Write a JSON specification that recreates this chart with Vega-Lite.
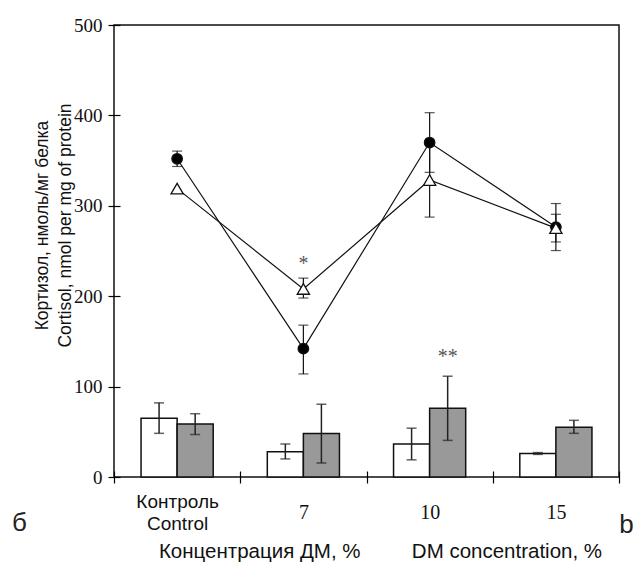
{
  "$schema": "https://vega.github.io/schema/vega-lite/v6.json",
  "width": 505,
  "height": 452,
  "autosize": {"type": "none"},
  "padding": {"left": 114, "top": 25, "right": 18, "bottom": 85},
  "title": {"text": "б", "orient": "bottom", "anchor": "start", "frame": "bounds", "font": "Liberation Sans", "fontSize": 26, "fontWeight": "normal", "color": "#222222", "dx": -21, "dy": -56},
  "datasets": {
    "bars": [
      {"dose": "Контроль", "group": "white", "mean": 65, "lo": 48.3, "hi": 82},
      {"dose": "Контроль", "group": "grey", "mean": 58.5, "lo": 47, "hi": 70},
      {"dose": "7", "group": "white", "mean": 28, "lo": 20, "hi": 36.5},
      {"dose": "7", "group": "grey", "mean": 48, "lo": 15.5, "hi": 80.5},
      {"dose": "10", "group": "white", "mean": 36.5, "lo": 19, "hi": 54},
      {"dose": "10", "group": "grey", "mean": 76, "lo": 40.5, "hi": 111.5},
      {"dose": "15", "group": "white", "mean": 26, "lo": 25, "hi": 27},
      {"dose": "15", "group": "grey", "mean": 55, "lo": 48.3, "hi": 62.7}
    ],
    "lines": [
      {"dose": "Контроль", "series": "circle", "mean": 352, "lo": 343.5, "hi": 360.5},
      {"dose": "7", "series": "circle", "mean": 142, "lo": 114, "hi": 168},
      {"dose": "10", "series": "circle", "mean": 370, "lo": 337, "hi": 403},
      {"dose": "15", "series": "circle", "mean": 276.5, "lo": 250.5, "hi": 302.5},
      {"dose": "Контроль", "series": "triangle", "mean": 319, "lo": null, "hi": null},
      {"dose": "7", "series": "triangle", "mean": 208, "lo": 198, "hi": 220},
      {"dose": "10", "series": "triangle", "mean": 328.5, "lo": 287.5, "hi": 369.5},
      {"dose": "15", "series": "triangle", "mean": 275.3, "lo": 260, "hi": 290.6}
    ],
    "stars1": [{"dose": "7", "label": "*", "value": 229}],
    "stars2": [{"dose": "10", "group": "grey", "label": "**", "value": 126}]
  },
  "encoding": {
    "x": {
      "field": "dose",
      "type": "nominal",
      "sort": ["Контроль", "7", "10", "15"],
      "scale": {"domain": ["Контроль", "7", "10", "15"], "paddingInner": 0, "paddingOuter": 0},
      "axis": {
        "title": "Концентрация ДМ, %\u00a0\u00a0\u00a0\u00a0\u00a0\u00a0\u00a0\u00a0\u00a0DM concentration, %",
        "titleFont": "Liberation Sans",
        "titleFontSize": 20.5,
        "titleFontWeight": "normal",
        "titleColor": "#111111",
        "titleX": 266,
        "titleY": 80,
        "titleAlign": "center",
        "titleBaseline": "middle",
        "tickBand": "extent",
        "tickSize": 12,
        "offset": -6,
        "domain": false,
        "tickColor": "#000000",
        "tickWidth": 1.2,
        "labelAngle": 0,
        "labelExpr": "datum.value == 'Контроль' ? ['Контроль', 'Control'] : datum.value",
        "labelFont": {"condition": {"test": "datum.value == 'Контроль'", "value": "Liberation Sans"}, "value": "Liberation Serif"},
        "labelFontSize": {"condition": {"test": "datum.value == 'Контроль'", "value": 19}, "value": 20},
        "labelBaseline": "middle",
        "labelPadding": {"condition": {"test": "datum.value == 'Контроль'", "value": 18}, "value": 29},
        "labelLineHeight": 22,
        "labelColor": "#111111"
      }
    }
  },
  "layer": [
    {
      "data": {"name": "bars"},
      "mark": {"type": "bar", "stroke": "#111111", "strokeWidth": 1.5},
      "encoding": {
        "xOffset": {"field": "group", "type": "nominal", "sort": ["white", "grey"], "scale": {"domain": ["white", "grey"], "paddingInner": 0, "paddingOuter": 0.75}},
        "y": {
          "field": "mean",
          "type": "quantitative",
          "scale": {"domain": [0, 500], "nice": false},
          "axis": {
            "title": ["Кортизол, нмоль/мг белка", "Cortisol, nmol per mg of protein"],
            "titleFont": "Liberation Sans",
            "titleFontSize": 17.5,
            "titleFontWeight": "normal",
            "titleColor": "#111111",
            "titleLineHeight": 23,
            "titleX": -78,
            "titleY": 200,
            "titleAngle": -90,
            "titleAlign": "center",
            "titleBaseline": "middle",
            "values": [0, 100, 200, 300, 400, 500],
            "offset": -6,
            "tickSize": 12,
            "tickColor": "#000000",
            "tickWidth": 1.2,
            "domain": false,
            "grid": false,
            "labelFont": "Liberation Serif",
            "labelFontSize": 19,
            "labelPadding": 6,
            "labelColor": "#111111"
          }
        },
        "fill": {"field": "group", "type": "nominal", "scale": {"domain": ["white", "grey"], "range": ["#ffffff", "#999999"]}, "legend": null}
      }
    },
    {
      "data": {"name": "bars"},
      "mark": {"type": "rule", "color": "#222222", "strokeWidth": 1.5},
      "encoding": {
        "xOffset": {"field": "group", "type": "nominal"},
        "y": {"field": "lo", "type": "quantitative", "axis": null},
        "y2": {"field": "hi"}
      }
    },
    {
      "data": {"name": "bars"},
      "mark": {"type": "tick", "color": "#222222", "thickness": 1.5, "size": 10},
      "encoding": {
        "xOffset": {"field": "group", "type": "nominal"},
        "y": {"field": "lo", "type": "quantitative", "axis": null}
      }
    },
    {
      "data": {"name": "bars"},
      "mark": {"type": "tick", "color": "#222222", "thickness": 1.5, "size": 10},
      "encoding": {
        "xOffset": {"field": "group", "type": "nominal"},
        "y": {"field": "hi", "type": "quantitative", "axis": null}
      }
    },
    {
      "data": {"name": "lines"},
      "mark": {"type": "rule", "color": "#111111", "strokeWidth": 1.2},
      "encoding": {
        "y": {"field": "lo", "type": "quantitative", "axis": null},
        "y2": {"field": "hi"}
      }
    },
    {
      "data": {"name": "lines"},
      "mark": {"type": "tick", "color": "#111111", "thickness": 1.2, "size": 10},
      "encoding": {
        "y": {"field": "lo", "type": "quantitative", "axis": null}
      }
    },
    {
      "data": {"name": "lines"},
      "mark": {"type": "tick", "color": "#111111", "thickness": 1.2, "size": 10},
      "encoding": {
        "y": {"field": "hi", "type": "quantitative", "axis": null}
      }
    },
    {
      "data": {"name": "lines"},
      "mark": {"type": "line", "color": "#111111", "strokeWidth": 1.2},
      "encoding": {
        "y": {"field": "mean", "type": "quantitative", "axis": null},
        "detail": {"field": "series", "type": "nominal"}
      }
    },
    {
      "data": {"name": "lines"},
      "mark": {"type": "point", "filled": false, "stroke": "#111111", "strokeWidth": 1.3, "opacity": 1},
      "encoding": {
        "y": {
          "field": "mean",
          "type": "quantitative",
          "axis": {
            "orient": "right",
            "title": "b",
            "titleAngle": 0,
            "titleFont": "Liberation Sans",
            "titleFontSize": 26,
            "titleFontWeight": "normal",
            "titleColor": "#222222",
            "titleX": 7,
            "titleY": 499,
            "titleAlign": "center",
            "titleBaseline": "middle",
            "labels": false,
            "ticks": false,
            "domain": false,
            "grid": false
          }
        },
        "shape": {"field": "series", "type": "nominal", "scale": {"domain": ["circle", "triangle"], "range": ["circle", "triangle-up"]}, "legend": null},
        "fill": {"field": "series", "type": "nominal", "scale": {"domain": ["circle", "triangle"], "range": ["#000000", "#ffffff"]}, "legend": null},
        "size": {"field": "series", "type": "nominal", "scale": {"domain": ["circle", "triangle"], "range": [110, 150]}, "legend": null}
      }
    },
    {
      "data": {"name": "stars1"},
      "mark": {"type": "text", "font": "Liberation Serif", "fontSize": 20, "color": "#555555", "baseline": "alphabetic", "align": "center"},
      "encoding": {
        "y": {"field": "value", "type": "quantitative", "axis": null},
        "text": {"field": "label"}
      }
    },
    {
      "data": {"name": "stars2"},
      "mark": {"type": "text", "font": "Liberation Serif", "fontSize": 20, "color": "#555555", "baseline": "alphabetic", "align": "center"},
      "encoding": {
        "xOffset": {"field": "group", "type": "nominal"},
        "y": {"field": "value", "type": "quantitative", "axis": null},
        "text": {"field": "label"}
      }
    }
  ],
  "resolve": {"axis": {"y": "independent"}, "scale": {"fill": "independent"}},
  "config": {
    "view": {"stroke": "#111111", "strokeWidth": 1.5},
    "background": "#ffffff"
  }
}
